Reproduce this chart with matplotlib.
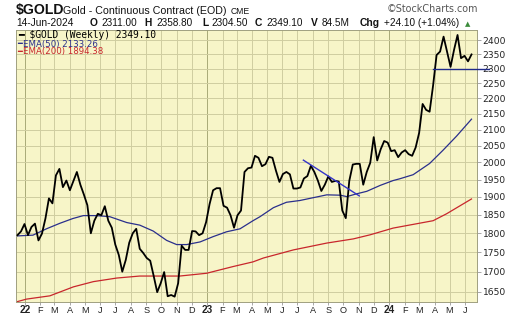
import matplotlib
matplotlib.use("Agg")
import matplotlib.pyplot as plt
import matplotlib.ticker as mticker
import pandas as pd

# weekly closes, 17-Dec-2021 .. 14-Jun-2024
closes = [1795, 1805, 1825, 1795, 1817, 1826, 1781, 1799, 1840, 1896,
          1882, 1962, 1981, 1928, 1947, 1919, 1945, 1972, 1935, 1907,
          1877, 1800, 1834, 1853, 1849, 1874, 1834, 1815, 1770, 1743,
          1700, 1730, 1775, 1800, 1812, 1759, 1748, 1735, 1728, 1689,
          1649, 1671, 1699, 1639, 1642, 1638, 1671, 1767, 1756, 1756,
          1806, 1805, 1795, 1800, 1830, 1880, 1919, 1925, 1925, 1875,
          1870, 1849, 1815, 1849, 1862, 1972, 1983, 1985, 2020, 2014,
          1989, 1995, 2017, 2014, 1976, 1943, 1966, 1972, 1965, 1924,
          1924, 1927, 1953, 1960, 1990, 1972, 1947, 1917, 1935, 1959,
          1943, 1946, 1944, 1862, 1841, 1946, 1994, 1996, 1996, 1935,
          1972, 1999, 2077, 2006, 2040, 2065, 2060, 2034, 2037, 2016,
          2030, 2037, 2025, 2020, 2045, 2090, 2182, 2163, 2157, 2243,
          2347, 2359, 2412, 2359, 2306, 2365, 2418, 2336, 2344, 2325,
          2349]
dates = pd.date_range(end="2024-06-14", periods=len(closes), freq="W-FRI")

ema50_dates = ["2021-12-17", "2022-01-17", "2022-02-13", "2022-03-12", "2022-04-07",
               "2022-04-28", "2022-05-24", "2022-06-20", "2022-07-24", "2022-08-19",
               "2022-09-15", "2022-10-12", "2022-11-01", "2022-11-21", "2022-12-18",
               "2023-01-13", "2023-02-09", "2023-03-08", "2023-04-03", "2023-04-17",
               "2023-05-14", "2023-06-09", "2023-07-06", "2023-08-02", "2023-08-29",
               "2023-09-25", "2023-10-08", "2023-10-28", "2023-11-17", "2023-12-14",
               "2024-01-09", "2024-01-22", "2024-02-18", "2024-03-22", "2024-04-18",
               "2024-05-15", "2024-06-14"]
ema50 = [1793, 1795, 1812, 1827, 1840, 1848, 1848, 1845, 1829, 1822,
         1806, 1781, 1770, 1770, 1777, 1791, 1804, 1812, 1834, 1845,
         1870, 1885, 1890, 1898, 1906, 1905, 1901, 1909, 1916, 1933,
         1947, 1952, 1964, 1997, 2037, 2080, 2133.26]

ema200_dates = ["2021-12-17", "2022-01-04", "2022-02-20", "2022-04-08", "2022-05-18",
                "2022-07-04", "2022-08-19", "2022-11-07", "2022-12-31", "2023-02-22",
                "2023-04-03", "2023-04-24", "2023-06-23", "2023-08-29", "2023-10-21",
                "2023-11-24", "2024-01-09", "2024-03-29", "2024-04-25", "2024-06-14"]
ema200 = [1626, 1632, 1640, 1662, 1675, 1684, 1689, 1689, 1696, 1713,
          1725, 1735, 1756, 1774, 1785, 1796, 1814, 1834, 1853, 1894.38]

trend_dates = ["2023-07-13", "2023-11-02"]
trend_vals = [2007, 1903]
support_start = "2024-03-28"
support_level = 2300

yticks = list(range(1650, 2401, 50))
month_letters = ["", "F", "M", "A", "M", "J", "J", "A", "S", "O", "N", "D"]

# header pieces: (x px, text, bold)
quote_parts = [(90, "O", True), (101, "2311.00", False),
               (144, "H", True), (156, "2358.80", False),
               (202, "L", True), (211, "2304.50", False),
               (255, "C", True), (266, "2349.10", False),
               (311, "V", True), (322, "84.5M", False),
               (360, "Chg", True), (384, "+24.10 (+1.04%)", False)]

W, H = 520, 318
fig = plt.figure(figsize=(W / 100, H / 100), dpi=100)
fig.patch.set_facecolor("white")
ax = fig.add_axes([16 / W, 1 - 302 / H, (477 - 16) / W, (302 - 30) / H])
ax.set_facecolor("#F7F5C8")

ax.set_yscale("log")
ax.set_ylim(1625, 2436)
ax.set_xlim(pd.Timestamp("2021-12-14"), pd.Timestamp("2024-06-25"))

# grid
months = pd.date_range("2022-01-01", "2024-06-01", freq="MS")
for m in months:
    ax.axvline(m, color="#A9AA78" if m.month == 1 else "#CFCDA0", lw=0.7, zorder=0)
for v in yticks:
    ax.axhline(v, color="#CFCDA0", lw=0.7, zorder=0)

ax.plot(pd.to_datetime(ema200_dates), ema200, color="#C8262C", lw=0.9, zorder=2)
ax.plot(pd.to_datetime(ema50_dates), ema50, color="#2A2F8C", lw=0.9, zorder=2)
ax.plot(dates, closes, color="black", lw=1.3, zorder=3)
ax.plot(pd.to_datetime(trend_dates), trend_vals, color="#3434C8", lw=1.0, zorder=4)
ax.plot([pd.Timestamp(support_start), pd.Timestamp("2024-07-20")], [support_level] * 2,
        color="#1F2A8A", lw=1.0, zorder=4, clip_on=False)

# axes
ax.yaxis.tick_right()
ax.yaxis.set_major_locator(mticker.FixedLocator(yticks))
ax.yaxis.set_minor_locator(mticker.NullLocator())
ax.yaxis.set_major_formatter(mticker.FixedFormatter([str(v) for v in yticks]))
ax.tick_params(axis="y", which="major", length=3, width=0.6, color="#999999",
               labelsize=6.6, labelcolor="#222222", pad=1)
ax.set_xticks(months)
ax.set_xticklabels([])
ax.tick_params(axis="x", length=2, width=0.6, color="#999999")
for m in months:
    if m.month == 1:
        ax.text(m, -0.012, m.strftime("%y"), transform=ax.get_xaxis_transform(),
                ha="center", va="top", fontsize=7.2, fontweight="bold",
                family="Liberation Sans", color="#222222")
    else:
        ax.text(m, -0.015, month_letters[m.month - 1], transform=ax.get_xaxis_transform(),
                ha="center", va="top", fontsize=6.6, family="Liberation Sans",
                color="#222222")
for s in ax.spines.values():
    s.set_color("#A0A080")
    s.set_linewidth(0.7)

# header
def px(x, y):
    return x / W, 1 - y / H

fig.text(*px(16, 14), "$GOLD", fontsize=10.1, fontweight="bold",
         family="Liberation Sans", color="#111111")
fig.text(*px(63, 13.5), "Gold - Continuous Contract (EOD)", fontsize=7.7,
         family="Liberation Sans", color="#111111")
fig.text(*px(231, 13.5), "CME", fontsize=6.2, family="Liberation Sans", color="#111111")
fig.text(*px(387, 12.5), "\u00a9StockCharts.com", fontsize=6.9,
         family="DejaVu Sans", color="#555555")
fig.text(*px(16, 26.5), "14-Jun-2024", fontsize=7.4, family="Liberation Sans",
         color="#111111")
for x, s, bold in quote_parts:
    fig.text(*px(x, 26.5), s, fontsize=7.4 if bold else 7.2,
             fontweight="bold" if bold else "normal",
             family="Liberation Sans", color="#111111")
fig.text(*px(465, 26), "\u25b2", fontsize=5, family="DejaVu Sans", color="#3C8C3C")

# legend
fig.text(*px(18, 38.5), "\u2501 $GOLD (Weekly) 2349.10", fontsize=6.9,
         family="DejaVu Sans Mono", color="black")
for y, s, c in [(46.5, "EMA(50) 2133.26", "#2A2F8C"), (54, "EMA(200) 1894.38", "#C8262C")]:
    fig.text(*px(17, y), "\u2501", fontsize=5.8, family="DejaVu Sans", color=c)
    fig.text(*px(23, y), s, fontsize=6.2, family="DejaVu Sans", color=c)

fig.savefig("out.png", dpi=100)
